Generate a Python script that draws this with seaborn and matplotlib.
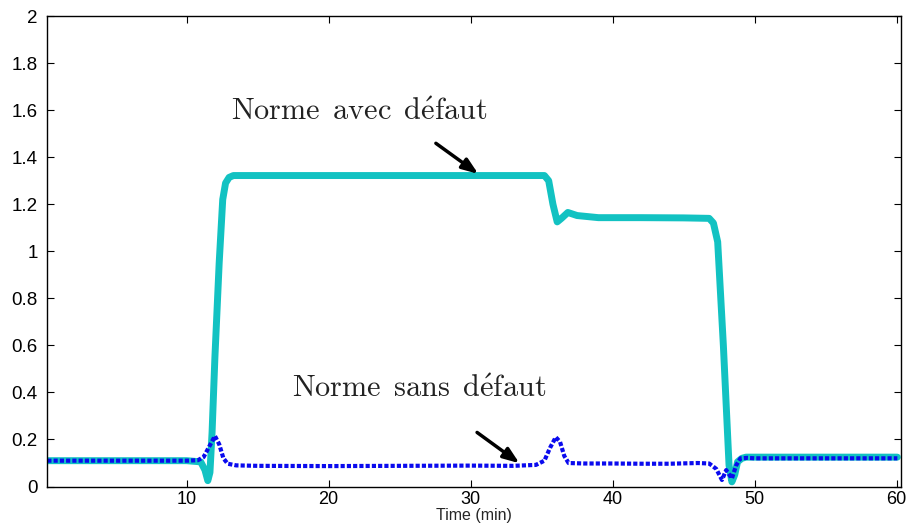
import numpy as np
import pandas as pd
import matplotlib
matplotlib.use("Agg")
import matplotlib.pyplot as plt
import seaborn as sns

# ---- data ----
time_avec = [0.2, 2, 4, 6, 8, 10, 11.0, 11.3, 11.5, 11.65, 11.8, 12.0, 12.3, 12.55, 12.75, 13.0, 13.3,
             15, 20, 25, 30, 33, 35.2, 35.5, 35.8, 36.1, 36.4, 36.85, 37.5, 39, 42, 45, 46.8,
             47.1, 47.4, 47.8, 48.2, 48.4, 48.6, 48.8, 49.1, 49.4, 50, 52, 55, 58, 60.05]
norme_avec = [0.11, 0.11, 0.11, 0.11, 0.11, 0.11, 0.105, 0.07, 0.025, 0.06, 0.23, 0.55, 0.95, 1.22, 1.29, 1.314, 1.322,
              1.322, 1.322, 1.322, 1.322, 1.322, 1.322, 1.30, 1.20, 1.125, 1.14, 1.165, 1.152, 1.143, 1.143, 1.142, 1.14,
              1.12, 1.04, 0.60, 0.09, 0.02, 0.05, 0.105, 0.12, 0.125, 0.125, 0.125, 0.125, 0.125, 0.125]

time_sans = [0.2, 2, 4, 6, 8, 10, 10.8, 11.2, 11.6, 12.0, 12.3, 12.6, 12.9, 13.5, 15, 20, 25, 30, 33,
             34.6, 35.2, 35.6, 36.0, 36.3, 36.6, 36.9, 38, 40, 42, 44, 46, 46.8, 47.3, 47.7,
             48.0, 48.4, 48.7, 49.0, 49.5, 50, 52, 55, 58, 60.05]
norme_sans = [0.11, 0.11, 0.11, 0.11, 0.11, 0.11, 0.112, 0.125, 0.17, 0.215, 0.18, 0.12, 0.097, 0.09, 0.088, 0.087, 0.088, 0.089, 0.088,
              0.092, 0.11, 0.165, 0.21, 0.19, 0.13, 0.10, 0.098, 0.098, 0.097, 0.097, 0.10, 0.098, 0.075, 0.028,
              0.07, 0.034, 0.09, 0.12, 0.122, 0.12, 0.12, 0.12, 0.12, 0.12]

x_ticks = [10, 20, 30, 40, 50, 60]
y_ticks = [0, 0.2, 0.4, 0.6, 0.8, 1.0, 1.2, 1.4, 1.6, 1.8, 2.0]
y_tick_labels = ["0", "0.2", "0.4", "0.6", "0.8", "1", "1.2", "1.4", "1.6", "1.8", "2"]

label_avec = r"$\mathrm{Norme\ \,avec\ \,d\acute{e}faut}$"
label_sans = r"$\mathrm{Norme\ \,sans\ \,d\acute{e}faut}$"
x_label = "Time (min)"

sns.set_theme(style="white")
plt.rcParams['font.family'] = ['Liberation Sans', 'DejaVu Sans']
plt.rcParams['mathtext.fontset'] = 'cm'

fig = plt.figure(figsize=(9.10, 5.26), dpi=100)
ax = fig.add_axes([0.052, 0.075, 0.938, 0.8945])

df_a = pd.DataFrame({"t": time_avec, "v": norme_avec})
df_s = pd.DataFrame({"t": time_sans, "v": norme_sans})

sns.lineplot(data=df_a, x="t", y="v", ax=ax, color="#12c2c2", linewidth=5.0,
             estimator=None, sort=False, solid_joinstyle="round", solid_capstyle="round")
sns.lineplot(data=df_s, x="t", y="v", ax=ax, color="#0a0aee", linewidth=3.0,
             estimator=None, sort=False, linestyle=(0, (1.0, 0.5)))

ax.set_xlim(0.2, 60.3)
ax.set_ylim(0, 2)
ax.set_xticks(x_ticks)
ax.set_xticklabels([str(v) for v in x_ticks])
ax.set_yticks(y_ticks)
ax.set_yticklabels(y_tick_labels)
ax.tick_params(direction="in", length=5, width=0.8, colors="black", labelsize=13.5,
               top=True, right=True, bottom=True, left=True)
ax.tick_params(axis="y", pad=7)
ax.tick_params(axis="x", pad=3, labelsize=13)
for sp in ax.spines.values():
    sp.set_color("black")
    sp.set_linewidth(1.0)
ax.set_xlabel(x_label, fontsize=11.5, labelpad=0)
ax.set_ylabel("")

ax.text(13.1, 1.559, label_avec, fontsize=21.8, color="#222222", ha="left", va="baseline")
ax.text(17.4, 0.381, label_sans, fontsize=21.8, color="#222222", ha="left", va="baseline")

ax.annotate("", xy=(30.7, 1.322), xytext=(27.4, 1.466),
            arrowprops=dict(arrowstyle="-|>,head_length=0.8,head_width=0.3", color="black", lw=2.5))
ax.annotate("", xy=(33.6, 0.092), xytext=(30.3, 0.237),
            arrowprops=dict(arrowstyle="-|>,head_length=0.8,head_width=0.3", color="black", lw=2.5))

fig.savefig("out.png", dpi=100)
